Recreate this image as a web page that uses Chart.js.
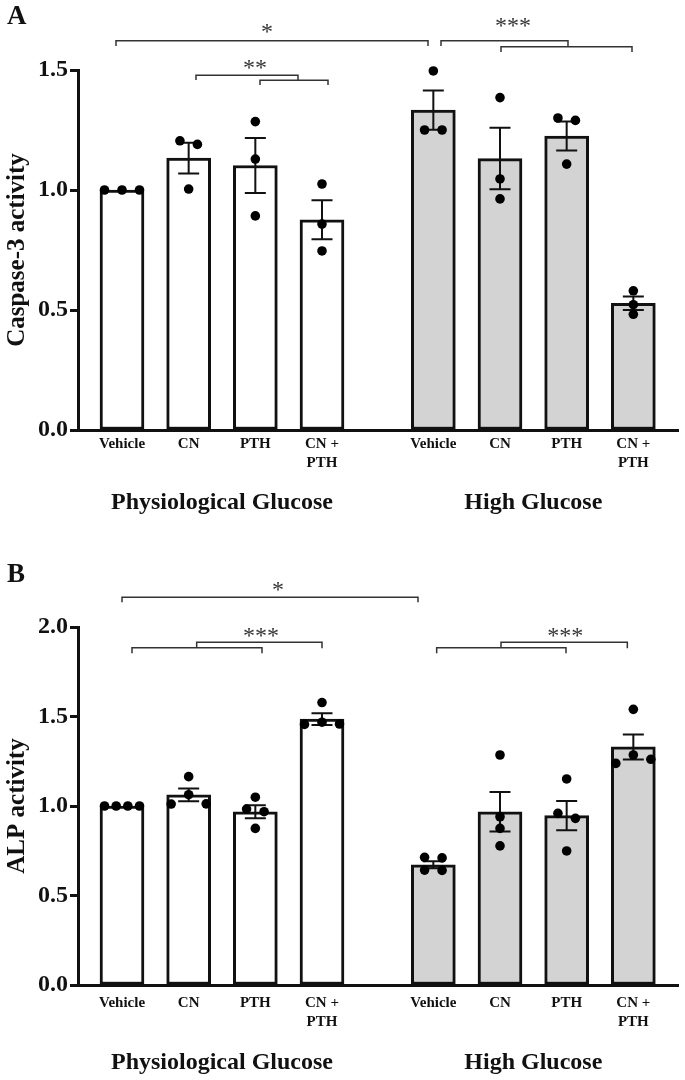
<!DOCTYPE html>
<html>
<head>
<meta charset="utf-8">
<script src="https://cdn.jsdelivr.net/npm/chart.js@4.4.1/dist/chart.umd.min.js"></script>
<style>
  html, body { margin: 0; padding: 0; background: #ffffff; }
  canvas { display: block; }
</style>
</head>
<body>
<canvas id="panelA" width="685" height="540"></canvas>
<canvas id="panelB" width="685" height="540"></canvas>
<script>
const GROUPS = ["Physiological Glucose", "High Glucose"];
const TREATMENTS = [["Vehicle"], ["CN"], ["PTH"], ["CN +", "PTH"]];

// Panel A - Caspase-3 activity (4 physiological glucose bars, then 4 high glucose bars)
const CASPASE_POINTS = [
  [1.0, 1.0, 1.0], [1.205, 1.19, 1.004], [1.285, 1.129, 0.892], [1.025, 0.858, 0.746],
  [1.496, 1.25, 1.25], [1.385, 1.046, 0.963], [1.30, 1.29, 1.108], [0.58, 0.522, 0.482],
];
const CASPASE_MEAN = [1.0, 1.133, 1.102, 0.876, 1.333, 1.131, 1.225, 0.528];
const CASPASE_SEM = [0, 0.064, 0.115, 0.081, 0.082, 0.128, 0.06, 0.028];

// Panel B - ALP activity
const ALP_POINTS = [
  [1.0, 1.0, 1.0, 1.0], [1.164, 1.063, 1.012, 1.011], [1.049, 0.983, 0.968, 0.875], [1.578, 1.468, 1.458, 1.456],
  [0.713, 0.71, 0.642, 0.64], [1.285, 0.94, 0.875, 0.777], [1.151, 0.959, 0.931, 0.749], [1.54, 1.285, 1.261, 1.238],
];
const ALP_MEAN = [1.0, 1.062, 0.968, 1.485, 0.672, 0.968, 0.946, 1.33];
const ALP_SEM = [0, 0.036, 0.036, 0.033, 0.02, 0.11, 0.082, 0.07];

const SERIF = "'Liberation Serif', 'Times New Roman', serif";
const INK = "#111111";
Chart.defaults.font.family = SERIF;
Chart.defaults.color = INK;

// bar slots on a linear x axis (0..9), with a wider gap between the two glucose groups
const SLOT0 = 0.66, GROUP_STEP = 4.67;
const barX = GROUPS.flatMap((g, gi) => TREATMENTS.map((t, ti) => SLOT0 + gi * GROUP_STEP + ti));
const barLabels = GROUPS.flatMap(() => TREATMENTS);
const groupX = GROUPS.map((g, gi) => SLOT0 + gi * GROUP_STEP + (TREATMENTS.length - 1) / 2);
const barFill = barX.map((x, k) => (k < TREATMENTS.length ? "#ffffff" : "#d3d3d3"));

// GraphPad-like scatter: points close in y share a row and are spread sideways
const ROW_GAP_PX = 9.4, DOT_STEP_PX = 17.5, DOT_SPAN_PX = 35;
function swarmOffsets(values, yScale) {
  const order = values.map((v, i) => i).sort((a, b) => values[b] - values[a]);
  const rows = [];
  let prev = null;
  order.forEach((i) => {
    const px = yScale.getPixelForValue(values[i]);
    if (prev !== null && Math.abs(px - prev) < ROW_GAP_PX) rows[rows.length - 1].push(i);
    else rows.push([i]);
    prev = px;
  });
  const off = values.map(() => 0);
  rows.forEach((row) => {
    const n = row.length;
    if (n < 2) return;
    const step = Math.min(DOT_STEP_PX, DOT_SPAN_PX / (n - 1));
    const slots = n === 3 ? [0, 1, -1] : row.map((_, k) => k - (n - 1) / 2);
    row.forEach((idx, k) => { off[idx] = slots[k] * step; });
  });
  return off;
}

function marksPlugin(spec) {
  return {
    id: "figureMarks",
    afterDatasetDraw(chart, args) {
      if (args.index !== 0) return;
      const { ctx, scales: { x, y } } = chart;
      ctx.save();
      ctx.strokeStyle = INK;
      ctx.lineWidth = 2;
      spec.mean.forEach((m, k) => {
        const s = spec.sem[k];
        if (!s) return;
        const cx = x.getPixelForValue(barX[k]);
        const top = y.getPixelForValue(m + s), bot = y.getPixelForValue(m - s);
        ctx.beginPath();
        ctx.moveTo(cx, top); ctx.lineTo(cx, bot);
        ctx.moveTo(cx - 10.5, top); ctx.lineTo(cx + 10.5, top);
        ctx.moveTo(cx - 10.5, bot); ctx.lineTo(cx + 10.5, bot);
        ctx.stroke();
      });
      ctx.restore();
    },
    afterDraw(chart) {
      const { ctx, scales: { x, y } } = chart;
      ctx.save();
      ctx.strokeStyle = "#333333";
      ctx.lineWidth = 1.5;
      spec.brackets.forEach((b) => {
        ctx.beginPath();
        ctx.moveTo(x.getPixelForValue(b.x1), y.getPixelForValue(b.d1));
        ctx.lineTo(x.getPixelForValue(b.x1), y.getPixelForValue(b.y));
        ctx.lineTo(x.getPixelForValue(b.x2), y.getPixelForValue(b.y));
        ctx.lineTo(x.getPixelForValue(b.x2), y.getPixelForValue(b.d2));
        ctx.stroke();
      });
      ctx.fillStyle = "#333333";
      ctx.font = "24px " + SERIF;
      ctx.textAlign = "center";
      ctx.textBaseline = "middle";
      spec.stars.forEach((s) => {
        ctx.fillText(s.text, x.getPixelForValue(s.x), y.getPixelForValue(s.y) + 3.5);
      });
      ctx.fillStyle = INK;
      ctx.font = "bold 27px " + SERIF;
      ctx.textAlign = "left";
      ctx.fillText(spec.letter, 7, spec.letterY);
      ctx.restore();
    },
  };
}

function buildPanel(canvasId, spec) {
  const dots = spec.points.flatMap((vals, k) => vals.map((v) => ({ x: barX[k], y: v })));
  const chart = new Chart(document.getElementById(canvasId), {
    type: "bar",
    data: {
      datasets: [
        {
          type: "bar",
          data: barX.map((x, k) => ({ x, y: spec.mean[k] })),
          backgroundColor: barFill,
          borderColor: INK,
          borderWidth: 3,
          borderSkipped: false,
          barThickness: 44,
          order: 2,
          clip: false,
        },
        {
          type: "scatter",
          data: dots,
          showLine: false,
          pointRadius: 4.8,
          pointBackgroundColor: "#000000",
          pointBorderWidth: 0,
          order: 1,
          clip: false,
        },
      ],
    },
    options: {
      responsive: false,
      animation: false,
      events: [],
      layout: { padding: { top: spec.padTop, right: 7, bottom: 0, left: 0 } },
      plugins: { legend: { display: false }, tooltip: { enabled: false } },
      scales: {
        x: {
          type: "linear", min: 0, max: 9, offset: false, weight: 0,
          grid: { display: false, drawTicks: false, offset: false },
          border: { display: true, width: 3, color: INK },
          afterBuildTicks: (s) => { s.ticks = barX.map((v) => ({ value: v })); },
          afterFit: (s) => { s.height = 50; },
          ticks: {
            autoSkip: false, maxRotation: 0, padding: spec.tickPad, color: INK,
            font: { size: 15, weight: "bold", lineHeight: 1.3 },
            callback: (v, i) => barLabels[i],
          },
        },
        x2: {
          type: "linear", position: "bottom", min: 0, max: 9, offset: false, weight: 1,
          grid: { display: false, drawTicks: false },
          border: { display: false },
          afterBuildTicks: (s) => { s.ticks = groupX.map((v) => ({ value: v })); },
          afterFit: (s) => { s.height = spec.groupBox; },
          ticks: {
            autoSkip: false, maxRotation: 0, padding: spec.groupPad, color: INK,
            font: { size: 24, weight: "bold" },
            callback: (v, i) => GROUPS[i],
          },
        },
        y: {
          min: 0, max: spec.yMax,
          afterFit: (s) => { s.width = 78; },
          grid: { drawOnChartArea: false, drawTicks: true, tickLength: 8, tickWidth: 3, tickColor: INK },
          border: { display: true, width: 3, color: INK },
          ticks: {
            stepSize: 0.5, padding: 2, color: INK,
            font: { size: 24, weight: "bold" },
            callback: (v) => v.toFixed(1),
          },
          title: {
            display: true, text: spec.yTitle, color: INK,
            font: { size: 25, weight: "bold" },
            padding: { top: 3, bottom: 0 },
          },
        },
      },
    },
    plugins: [marksPlugin(spec)],
  });

  // second pass: spread overlapping replicate dots sideways, in pixel terms
  const xs = chart.scales.x, ys = chart.scales.y;
  const unit = xs.getPixelForValue(1) - xs.getPixelForValue(0);
  chart.data.datasets[1].data = spec.points.flatMap((vals, k) => {
    const off = swarmOffsets(vals, ys);
    return vals.map((v, i) => ({ x: barX[k] + off[i] / unit, y: v }));
  });
  chart.update("none");
  return chart;
}

buildPanel("panelA", {
  letter: "A", letterY: 17,
  yTitle: "Caspase-3 activity", yMax: 1.5,
  points: CASPASE_POINTS, mean: CASPASE_MEAN, sem: CASPASE_SEM,
  padTop: 70, groupBox: 60, tickPad: 4, groupPad: 8,
  brackets: [
    { x1: 0.57, x2: 5.25, y: 1.622, d1: 1.6, d2: 1.6 },
    { x1: 5.445, x2: 7.35, y: 1.622, d1: 1.6, d2: 1.597 },
    { x1: 6.345, x2: 8.31, y: 1.597, d1: 1.575, d2: 1.575 },
    { x1: 1.77, x2: 3.3, y: 1.478, d1: 1.458, d2: 1.457 },
    { x1: 2.73, x2: 3.75, y: 1.457, d1: 1.4375, d2: 1.4375 },
  ],
  stars: [
    { text: "*", x: 2.835, y: 1.671 },
    { text: "***", x: 6.525, y: 1.696 },
    { text: "**", x: 2.655, y: 1.521 },
  ],
});

buildPanel("panelB", {
  letter: "B", letterY: 35,
  yTitle: "ALP activity", yMax: 2.0,
  points: ALP_POINTS, mean: ALP_MEAN, sem: ALP_SEM,
  padTop: 87, groupBox: 45, tickPad: 8, groupPad: 13,
  brackets: [
    { x1: 0.66, x2: 5.1, y: 2.166, d1: 2.138, d2: 2.138 },
    { x1: 0.81, x2: 2.76, y: 1.884, d1: 1.853, d2: 1.853 },
    { x1: 1.78, x2: 3.66, y: 1.915, d1: 1.884, d2: 1.881 },
    { x1: 5.38, x2: 7.32, y: 1.884, d1: 1.853, d2: 1.853 },
    { x1: 6.345, x2: 8.24, y: 1.915, d1: 1.884, d2: 1.881 },
  ],
  stars: [
    { text: "*", x: 3.0, y: 2.22 },
    { text: "***", x: 7.31, y: 1.965 },
    { text: "***", x: 2.745, y: 1.965 },
  ],
});
</script>
</body>
</html>
